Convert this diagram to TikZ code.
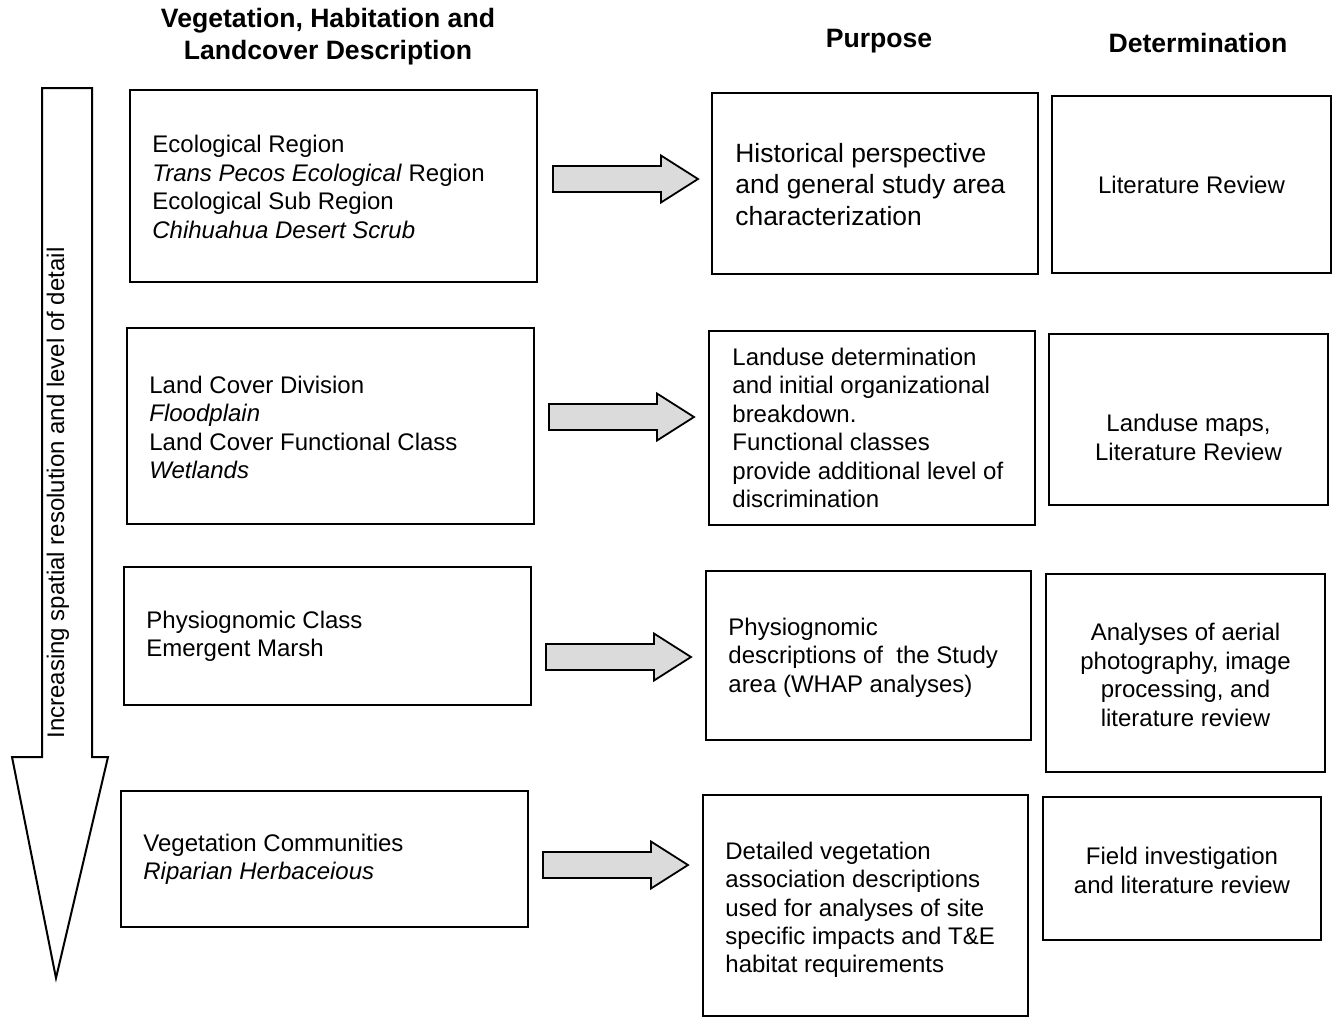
\documentclass[tikz,border=0pt]{standalone}
\usepackage{fontspec}
\setmainfont{Liberation Sans}
\begin{document}
\begin{tikzpicture}[x=0.5pt,y=-0.5pt,
  box/.style={draw, line width=1pt, inner sep=0pt},
  txt/.style={inner sep=0pt, align=left, font=\fontsize{12}{14.2}\selectfont},
  ctxt/.style={inner sep=0pt, align=center, font=\fontsize{12}{14.2}\selectfont},
  head/.style={inner sep=0pt, align=center, font=\fontsize{13.3}{16}\selectfont\bfseries},
  blockarr/.style={draw, line width=0.9pt, fill=gray!28, line join=miter},
  bigarr/.style={draw, line width=1pt, fill=white, line join=miter}]
\useasboundingbox (0,0) rectangle (1333,1018);
\fill[white] (0,0) rectangle (1333,1018);

% headers
\node[head] (h1) at (328,37) {Vegetation, Habitation and\\Landcover Description};
\node[head] (h2) at (879,41) {Purpose};
\node[head] (h3) at (1198,43) {Determination};

% big down arrow
\draw[bigarr] (42,88) -- (92,88) -- (92,757) -- (108,757) -- (56,978) -- (12,757) -- (42,757) -- cycle;
\node[rotate=90, inner sep=0pt, font=\fontsize{12}{14}\selectfont] (vt) at (58,493) {Increasing spatial resolution and level of detail};

% left column
\node[box, minimum width=203.5pt, minimum height=96pt] (L1) at (333.5,186) {};
\node[txt, anchor=west] (L1t) at ([xshift=11.5pt,yshift=-0.5pt]L1.west) {Ecological Region\\\textit{Trans Pecos Ecological} Region\\Ecological Sub Region\\\textit{Chihuahua Desert Scrub}};

\node[box, minimum width=203.5pt, minimum height=98pt] (L2) at (330.5,426) {};
\node[txt, anchor=west] (L2t) at ([xshift=11.5pt,yshift=-0.8pt]L2.west) {Land Cover Division\\\textit{Floodplain}\\Land Cover Functional Class\\\textit{Wetlands}};

\node[box, minimum width=203.5pt, minimum height=69pt] (L3) at (327.5,636) {};
\node[txt, anchor=west] (L3t) at ([xshift=11.5pt]L3.west) {Physiognomic Class\\Emergent Marsh};

\node[box, minimum width=203.5pt, minimum height=68pt] (L4) at (324.5,859) {};
\node[txt, anchor=west] (L4t) at ([xshift=11.5pt]L4.west) {Vegetation Communities\\\textit{Riparian Herbaceious}};

% middle column
\node[box, minimum width=163pt, minimum height=90.5pt] (M1) at (875,183.5) {};
\node[txt, anchor=west, font=\fontsize{13.2}{15.6}\selectfont] (M1t) at ([xshift=12pt,yshift=-0.5pt]M1.west) {Historical perspective\\and general study area\\characterization};

\node[box, minimum width=163pt, minimum height=97pt] (M2) at (872,428) {};
\node[txt, anchor=west] (M2t) at ([xshift=12pt]M2.west) {Landuse determination\\and initial organizational\\breakdown.\\Functional classes\\provide additional level of\\discrimination};

\node[box, minimum width=162.5pt, minimum height=84.5pt] (M3) at (868.5,655.5) {};
\node[txt, anchor=west] (M3t) at ([xshift=11.5pt,yshift=-1pt]M3.west) {Physiognomic\\descriptions of\ \ the Study\\area (WHAP analyses)};

\node[box, minimum width=162.5pt, minimum height=110.5pt] (M4) at (865.5,905.5) {};
\node[txt, anchor=west] (M4t) at ([xshift=11.5pt,yshift=-2.2pt]M4.west) {Detailed vegetation\\association descriptions\\used for analyses of site\\specific impacts and T\&E\\habitat requirements};

% right column
\node[box, minimum width=139.5pt, minimum height=88.5pt] (R1) at (1191.5,184.5) {};
\node[ctxt] (R1t) at (R1.center) {Literature Review};

\node[box, minimum width=139.5pt, minimum height=85.5pt] (R2) at (1188.5,419.5) {};
\node[ctxt] (R2t) at ([yshift=-9pt]R2.center) {Landuse maps,\\Literature Review};

\node[box, minimum width=139.5pt, minimum height=99pt] (R3) at (1185.5,673) {};
\node[ctxt] (R3t) at ([yshift=-1pt]R3.center) {Analyses of aerial\\photography, image\\processing, and\\literature review};

\node[box, minimum width=139pt, minimum height=71.5pt] (R4) at (1182,868.5) {};
\node[ctxt] (R4t) at ([yshift=-1pt]R4.center) {Field investigation\\and literature review};

% block arrows between columns
\newcommand\grarrow[2]{%
  \draw[blockarr] (#1,#2) ++(0,-13) -- ++(108,0) -- ++(0,-10.5) -- ++(37,23.5) -- ++(-37,23.5) -- ++(0,-10.5) -- ++(-108,0) -- cycle;}
\grarrow{553}{179}
\grarrow{549}{417}
\grarrow{546}{657}
\grarrow{543}{865}
\end{tikzpicture}
\end{document}
